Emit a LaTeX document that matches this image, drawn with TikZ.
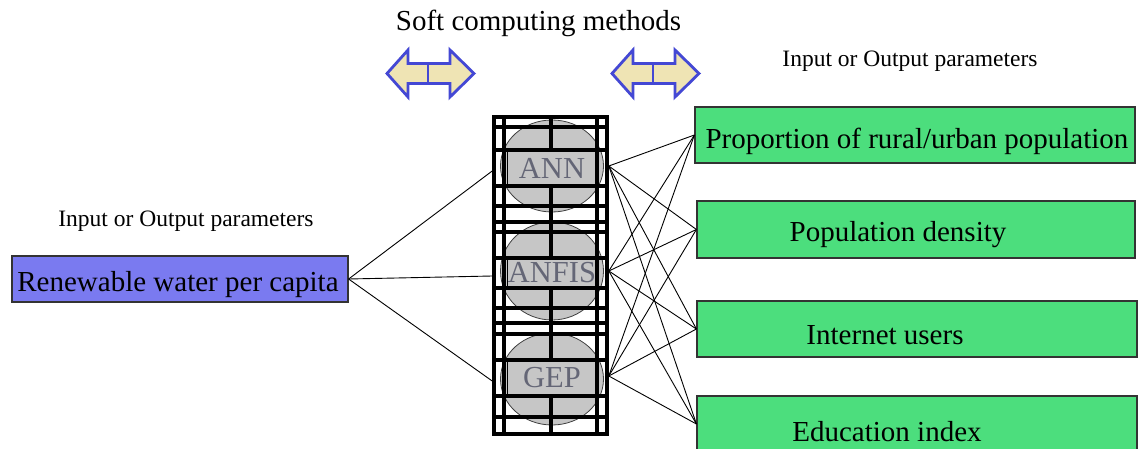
\documentclass[tikz,border=0pt]{standalone}
\usepackage{fontspec}
\setmainfont{Liberation Serif}
\usetikzlibrary{shapes.geometric}
\definecolor{rwblue}{RGB}{122,122,240}
\definecolor{boxgreen}{RGB}{76,222,125}
\definecolor{arrfill}{RGB}{239,228,180}
\definecolor{arrline}{RGB}{68,72,212}
\definecolor{ellgray}{RGB}{198,198,198}
\definecolor{methtext}{RGB}{100,102,118}
\begin{document}
\begin{tikzpicture}[x=1pt,y=-1pt,
  bigfont/.style={font=\fontsize{29}{32}\selectfont},
  smallfont/.style={font=\fontsize{23.5}{26}\selectfont},
  parbox/.style={draw=black!80, line width=1.2pt, inner sep=0pt},
  greenbox/.style={parbox, fill=boxgreen, minimum width=440pt, minimum height=56pt},
  lbl/.style={bigfont, anchor=base, inner sep=0pt},
  ell/.style={ellipse, draw=black!75, line width=0.8pt, fill=ellgray, minimum width=103pt, inner sep=0pt},
  methbox/.style={rectangle, draw=black, line width=1pt, fill=ellgray, minimum width=90pt, inner sep=0pt, text=methtext, font=\fontsize{30.5}{32}\selectfont},
  grid/.style={line width=3.6pt, black},
  conn/.style={line width=0.9pt, black},
  dblarr/.pic={
    \draw[line width=2.8pt, arrline, fill=arrfill, line join=miter]
      (0,0) -- (21,-23.5) -- (21,-10) -- (63,-10) -- (63,-23.5) -- (87,0)
      -- (63,23.5) -- (63,10) -- (21,10) -- (21,23.5) -- cycle;
    \draw[line width=2.8pt, arrline] (41,-10) -- (41,10);
  }
]
\useasboundingbox (0,0) rectangle (1143,449);
\clip (0,0) rectangle (1143,449);

% titles
\node[bigfont, anchor=base, inner sep=0pt] (title) at (538.5,31) {Soft computing methods};
\node[smallfont, anchor=base, inner sep=0pt] (lefthead) at (186,226.7) {Input or Output parameters};
\node[smallfont, anchor=base, inner sep=0pt] (righthead) at (910,66.7) {Input or Output parameters};

% double arrows
\pic at (387,73.5) {dblarr};
\pic at (612,73.5) {dblarr};

% left box
\node[parbox, fill=rwblue, minimum width=336pt, minimum height=46pt,
  label={[lbl, xshift=-2pt, yshift=-6pt]center:Renewable water per capita}] (rw) at (180,279) {};

% right boxes
\node[greenbox, label={[lbl, xshift=2pt, yshift=-6.7pt]center:Proportion of rural/urban population}] (g1) at (915,135) {};
\node[greenbox, minimum width=438pt, minimum height=57pt, label={[lbl, xshift=-18pt, yshift=-5.5pt]center:Population density}] (g2) at (916,229.5) {};
\node[greenbox, label={[lbl, xshift=-32pt, yshift=-6pt]center:Internet users}] (g3) at (917,329) {};
\node[greenbox, label={[lbl, xshift=-30pt, yshift=-7.7pt]center:Education index}] (g4) at (917,424) {};

% ellipses
\node[ell, minimum height=92pt] (e1) at (552,166) {};
\node[ell, minimum height=98pt] (e2) at (552,271) {};
\node[ell, minimum height=92pt] (e3) at (552,379) {};

% center vertical grid line
\draw[grid] (551,117) -- (551,434);

% method labels
\node[methbox, minimum height=36pt] (ann) at (552,168) {ANN};
\node[methbox, minimum height=30pt] (anfis) at (552,273) {ANFIS};
\node[methbox, minimum height=36pt] (gep) at (552,378) {GEP};

% column frame
\node[draw, line width=3.6pt, minimum width=113pt, minimum height=317pt, inner sep=0pt] (col) at (550.5,275.5) {};
\foreach \x in {504,597} \draw[grid] (\x,117) -- (\x,434);
\foreach \y in {127,150,186,206,222,232,258,288,308,323,334,360,396,417}
  \draw[grid] (494,\y) -- (607,\y);

% connectors
\foreach \s in {ann,anfis,gep}
  \draw[conn] (rw.east) -- ([yshift=-3pt]col.west |- \s);
\foreach \s in {ann,anfis,gep}
  \foreach \t in {g1,g2,g3,g4}
    \draw[conn] ([yshift=2pt]col.east |- \s) -- (\t.west);
\end{tikzpicture}
\end{document}
